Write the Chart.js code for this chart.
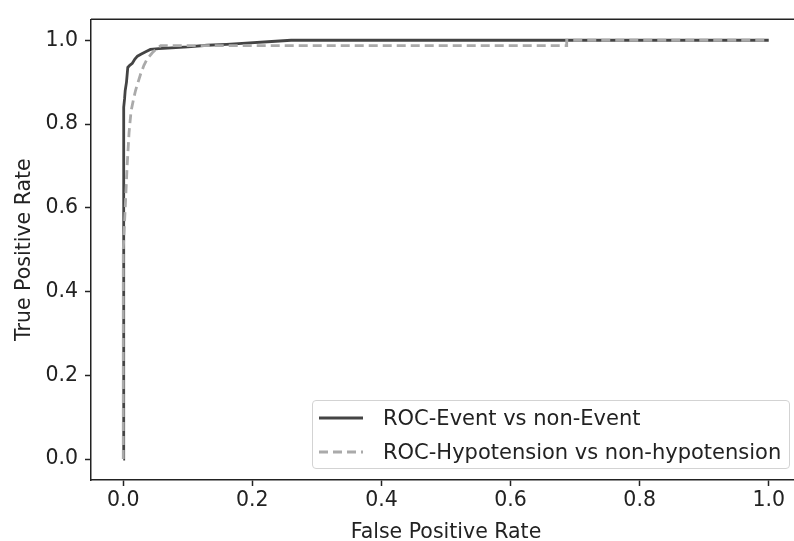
<!DOCTYPE html>
<html>
<head>
<meta charset="utf-8">
<script src="https://cdn.jsdelivr.net/npm/chart.js@4.4.1/dist/chart.umd.min.js"></script>
<style>
  html, body { margin: 0; padding: 0; background: #fff; overflow: hidden; }
  #wrap { position: relative; width: 794px; height: 541px; overflow: hidden; }
  #roc-chart { position: absolute; left: 0; top: 0; }
  #legend {
    position: absolute; left: 312px; top: 400px; width: 478px; height: 69px;
    box-sizing: border-box; border: 1px solid #d3d3d3; border-radius: 4px;
    background: rgba(255,255,255,0.85);
    font-family: "DejaVu Sans", sans-serif; font-size: 21px; color: #222;
  }
  .row { display: flex; align-items: center; height: 34px; }
  .row svg { margin-left: 6px; margin-right: 20px; }
</style>
</head>
<body>
<div id="wrap">
  <canvas id="roc-chart" width="810" height="541"></canvas>
  <div id="legend"></div>
</div>
<script>
const eventFpr = [0, 0, 0.001, 0.001, 0.002, 0.003, 0.005, 0.007, 0.010, 0.014, 0.018, 0.022, 0.028, 0.034, 0.042, 0.055, 0.075, 0.10, 0.13, 0.16, 0.19, 0.23, 0.26, 1.0];
const eventTpr = [0, 0.45, 0.50, 0.84, 0.86, 0.88, 0.90, 0.935, 0.94, 0.945, 0.955, 0.962, 0.967, 0.972, 0.978, 0.980, 0.982, 0.984, 0.988, 0.990, 0.993, 0.997, 1.0, 1.0];

const hypoFpr = [0, 0, 0.003, 0.006, 0.009, 0.012, 0.016, 0.019, 0.023, 0.027, 0.032, 0.037, 0.045, 0.052, 0.058, 0.687, 0.687, 1.0];
const hypoTpr = [0, 0.50, 0.60, 0.70, 0.78, 0.83, 0.86, 0.88, 0.90, 0.92, 0.94, 0.955, 0.970, 0.980, 0.987, 0.987, 1.0, 1.0];

const seriesLabels = ["ROC-Event vs non-Event", "ROC-Hypotension vs non-hypotension"];
const xTicks = [0, 0.2, 0.4, 0.6, 0.8, 1.0];
const yTicks = [0, 0.2, 0.4, 0.6, 0.8, 1.0];

const axisColor = "#222";
const tickFont = { family: "DejaVu Sans", size: 20.5 };
const titleFont = { family: "DejaVu Sans", size: 20.5, lineHeight: 1 };

function points(xs, ys) {
  return xs.map((x, i) => ({ x: x, y: ys[i] }));
}

// top spine (the right one is cut off in the original picture)
const topSpine = {
  id: "topSpine",
  afterDraw(chart) {
    const { ctx, chartArea: a } = chart;
    ctx.save();
    ctx.strokeStyle = axisColor;
    ctx.lineWidth = 1.6;
    ctx.beginPath();
    ctx.moveTo(a.left, a.top);
    ctx.lineTo(a.right + 20, a.top);
    ctx.stroke();
    ctx.restore();
  }
};

const chart = new Chart(document.getElementById("roc-chart"), {
  type: "line",
  data: {
    datasets: [
      {
        label: seriesLabels[0],
        data: points(eventFpr, eventTpr),
        borderColor: "#444444",
        borderWidth: 2.8,
        pointRadius: 0,
        tension: 0,
        order: 1,
      },
      {
        label: seriesLabels[1],
        data: points(hypoFpr, hypoTpr),
        borderColor: "#aaaaaa",
        borderWidth: 2.8,
        borderDash: [9, 5],
        pointRadius: 0,
        tension: 0,
        order: 0,
      },
    ],
  },
  options: {
    responsive: false,
    animation: false,
    layout: { padding: { top: 18, right: 9, left: 0, bottom: 0 } },
    plugins: { legend: { display: false }, tooltip: { enabled: false } },
    scales: {
      x: {
        type: "linear",
        min: -0.05,
        max: 1.05,
        afterBuildTicks: (s) => { s.ticks = xTicks.map((v) => ({ value: v })); },
        afterFit: (s) => { s.height = 61; },
        ticks: { font: tickFont, color: axisColor, padding: 2, maxRotation: 0, callback: (v) => v.toFixed(1) },
        grid: { drawOnChartArea: false, tickLength: 6, tickWidth: 1.5, tickColor: axisColor },
        border: { display: true, color: axisColor, width: 1.5 },
        title: { display: true, text: "False Positive Rate", font: titleFont, color: axisColor, padding: { top: 2, bottom: -2 } },
      },
      y: {
        type: "linear",
        min: -0.05,
        max: 1.05,
        afterBuildTicks: (s) => { s.ticks = yTicks.map((v) => ({ value: v })); },
        afterFit: (s) => { s.width = 91; },
        ticks: { font: tickFont, color: axisColor, padding: 7, callback: (v) => v.toFixed(1) },
        grid: { drawOnChartArea: false, tickLength: 6, tickWidth: 1.5, tickColor: axisColor },
        border: { display: true, color: axisColor, width: 1.5 },
        title: { display: true, text: "True Positive Rate", font: titleFont, color: axisColor, padding: { top: 14, bottom: 0 } },
      },
    },
  },
  plugins: [topSpine],
});

// legend drawn as html, from the datasets
const legend = document.getElementById("legend");
chart.data.datasets.forEach((ds) => {
  const row = document.createElement("div");
  row.className = "row";
  const dash = ds.borderDash ? 'stroke-dasharray="9 5"' : "";
  row.innerHTML =
    '<svg width="44" height="6"><line x1="0" y1="3" x2="44" y2="3" stroke="' + ds.borderColor +
    '" stroke-width="2.8" ' + dash + "/></svg><span>" + ds.label + "</span>";
  legend.appendChild(row);
});
</script>
</body>
</html>
